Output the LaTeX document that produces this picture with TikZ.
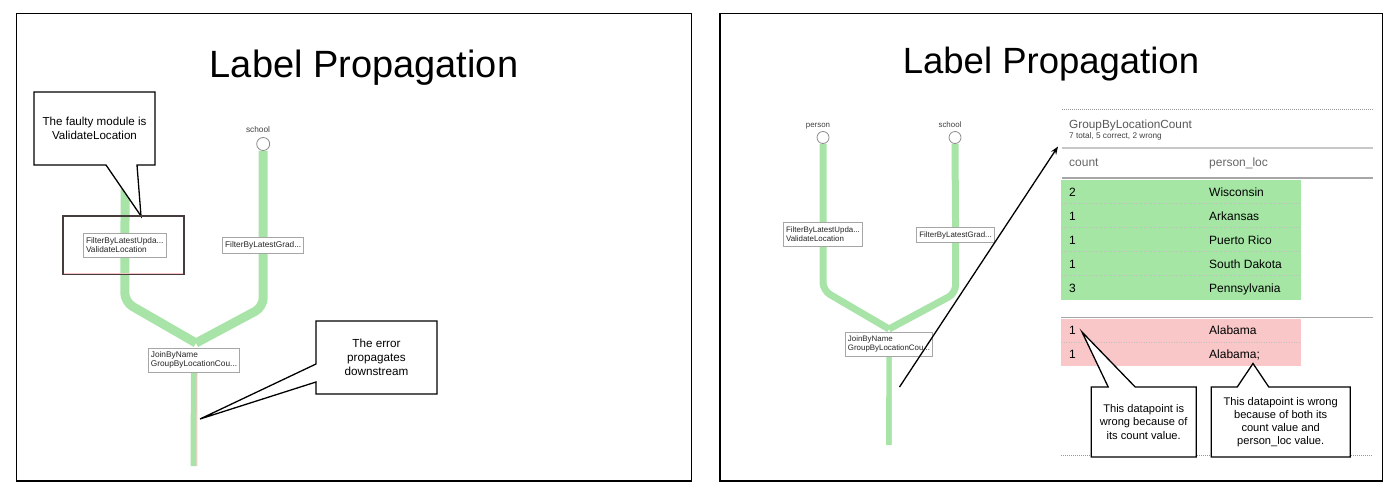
\documentclass[tikz,border=0pt]{standalone}
\usepackage{fontspec}
\setmainfont{Liberation Sans}
\usetikzlibrary{arrows.meta,backgrounds,calc}

\definecolor{pipegreen}{RGB}{168,228,168}
\definecolor{rowgreen}{RGB}{165,230,165}
\definecolor{rowpink}{RGB}{249,199,199}
\definecolor{pinkline}{RGB}{246,196,196}
\definecolor{hlbox}{RGB}{70,60,60}
\newcommand{\fsz}[2]{\fontsize{#1}{#2}\selectfont}

\begin{document}
\begin{tikzpicture}[x=1pt,y=-1pt,
  frame/.style={draw=black,line width=1.6pt},
  titletext/.style={inner sep=0pt,anchor=base},
  circL/.style={circle,draw=black!45,fill=white,line width=0.8pt,minimum size=13pt,inner sep=0pt},
  circR/.style={circle,draw=black!45,fill=white,line width=0.8pt,minimum size=12pt,inner sep=0pt},
  srclbl/.style={inner sep=0pt,anchor=base,text=black!75},
  gnode/.style={draw=black!35,fill=white,line width=0.8pt,align=left,inner xsep=2.5pt,inner ysep=0pt,text=black!85},
  gnodeL/.style={gnode,font=\fsz{8.3}{9}},
  gnodeR/.style={gnode,font=\fsz{7.9}{8.6}},
  pipeL/.style={draw=pipegreen,line width=9pt,rounded corners=9pt},
  pipeR/.style={draw=pipegreen,line width=7pt,rounded corners=8pt},
  pinkstrip/.style={draw=pinkline,line width=1pt},
  hlrect/.style={draw=hlbox,line width=1.5pt,inner sep=0pt},
  callshape/.style={draw=black,fill=white,line width=1.3pt,line join=miter},
  calltext/.style={align=center,inner sep=0pt,outer sep=0pt},
  tabtext/.style={inner sep=0pt,anchor=base west,font=\fsz{12}{14}},
  tabhead/.style={tabtext,text=black!60},
  dotline/.style={draw=black!40,line width=0.8pt,dash pattern=on 1pt off 1pt},
  rowsep/.style={draw=black!25,line width=0.6pt,dash pattern=on 1pt off 1.5pt},
  ptr/.style={draw=black,line width=1.3pt,-{Stealth[length=8pt,width=6pt]}}
]
\useasboundingbox (0,0) rectangle (1400,496);

% ---------- frames and titles ----------
\draw[frame] (16.6,13.3) rectangle (691.5,481);
\draw[frame] (720.2,13.3) rectangle (1382.5,481);
\node[titletext,font=\fsz{38}{40}] (Ltitle) at (364,77) {Label Propagation};
\node[titletext,font=\fsz{36.5}{38}] (Rtitle) at (1051,73.3) {Label Propagation};

% ---------- left panel graph ----------
\coordinate (Lptop) at (125.5,160);
\node[circL] (Lsc) at (263.2,144) {};
\node[srclbl,font=\fsz{8.3}{9}] (Lsclbl) at (258,132.5) {school};
\node[gnodeL,minimum height=24pt] (Lf1) at (124.8,245) {FilterByLatestUpda...\\ValidateLocation};
\node[gnodeL,minimum height=16pt] (Lf2) at (263.2,245) {FilterByLatestGrad...};
\node[gnodeL,minimum height=24pt] (Lj) at (194,360) {JoinByName\\GroupByLocationCou...};
\coordinate (Ljp) at (196,343);
\coordinate (Lend) at (193.5,466);
\node[hlrect,minimum width=121pt,minimum height=58pt] (Lhl) at (123.4,245) {};

% ---------- left callouts (text) ----------
\node[calltext,font=\fsz{11.6}{14},minimum width=121pt,minimum height=73pt] (Lc1) at (94.5,128.5) {The faulty module is\\ValidateLocation};
\coordinate (Lc1tip) at (141,216);
\node[calltext,font=\fsz{11.7}{14},minimum width=121pt,minimum height=73pt] (Lc2) at (376.5,357.5) {The error\\propagates\\downstream};
\coordinate (Lc2tip) at (200,419);

% ---------- right panel graph ----------
\node[circR] (Rpc) at (823,137.5) {};
\node[circR] (Rsc) at (955,137.5) {};
\node[srclbl,font=\fsz{7.9}{9}] (Rpclbl) at (818,127.5) {person};
\node[srclbl,font=\fsz{7.9}{9}] (Rsclbl) at (950,127.5) {school};
\node[gnodeR,minimum height=23.5pt] (Rf1) at (823,234.4) {FilterByLatestUpda...\\ValidateLocation};
\node[gnodeR,minimum height=15pt] (Rf2) at (955.6,235.2) {FilterByLatestGrad...};
\node[gnodeR,minimum height=23.7pt] (Rj) at (889,344.2) {JoinByName\\GroupByLocationCou...};
\coordinate (Rjp) at (889,329);
\coordinate (Rend) at (888.5,445);

% ---------- table ----------
\draw[dotline] (1062,109) -- (1373,109);
\node[tabtext,text=black!65,font=\fsz{11.8}{14}] (Ttitle) at (1069,128.3) {GroupByLocationCount};
\node[tabtext,text=black!75,font=\fsz{8.2}{10}] (Tsub) at (1069,138.2) {7 total, 5 correct, 2 wrong};
\draw[draw=black!22,line width=2pt] (1062,147.8) -- (1373,147.8);
\node[tabhead] (Hcount) at (1069,166) {count};
\node[tabhead] (Hloc) at (1209,166) {person\_loc};
\draw[draw=black!35,line width=1.8pt] (1062,178.3) -- (1373,178.3);

\begin{scope}[on background layer]
  \fill[white] (0,0) rectangle (1400,496);
  % table fills
  \fill[rowgreen] (1061,179.5) rectangle (1301,299.5);
  \fill[rowpink] (1061,318.5) rectangle (1301,366);
  % left pipes
  \draw[pipeL] (Lptop) -- (Lf1.center) -- ($(Lf1.center)+(0,57)$) -- (Ljp);
  \draw[pipeL] (Lsc.south) -- (Lf2.center) -- ($(Lf2.center)+(0,62)$) -- (Ljp);
  \draw[draw=pipegreen,line width=6pt] (Lj.center) -- (Lend);
  \draw[pinkstrip] ($(Lj.south)+(3,0)$) -- ($(Lend)+(3.4,0)$);
  % right pipes
  \draw[pipeR] (Rpc.south) -- (Rf1.center) -- ($(Rf1.center)+(0,56)$) -- (Rjp);
  \draw[pipeR] (Rsc.south) -- (Rf2.center) -- ($(Rf2.center)+(0,58)$) -- (Rjp);
  \draw[draw=pipegreen,line width=5pt] (Rj.center) -- (Rend);
  \draw[pinkstrip,line width=0.9pt] ($(Rj.south)+(2.4,0)$) -- ($(Rend)+(2.9,0)$);
  % callout shapes
  \draw[callshape] (Lc1.north west) -- (Lc1.north east) -- (Lc1.south east)
     -- ($(Lc1.south west)+(103,0)$) -- (Lc1tip) -- ($(Lc1.south west)+(72,0)$)
     -- (Lc1.south west) -- cycle;
  \draw[callshape] (Lc2.north west) -- (Lc2.north east) -- (Lc2.south east)
     -- (Lc2.south west) -- ($(Lc2.south west)+(0,-12)$) -- (Lc2tip)
     -- ($(Lc2.north west)+(0,43)$) -- cycle;
\end{scope}

% inner pink line of highlight box
\draw[pinkline,line width=0.8pt] ($(Lhl.south west)+(1.5,-1.2)$) -- ($(Lhl.south east)+(-1.5,-1.2)$);

% table rows
\foreach \y in {203.5,227.5,251.5,275.5} {\draw[rowsep] (1061,\y) -- (1301,\y);}
\draw[rowsep] (1061,342.3) -- (1301,342.3);
\node[tabtext] (r1a) at (1069,196) {2};
\node[tabtext] (r1b) at (1209,196) {Wisconsin};
\node[tabtext] (r2a) at (1069,220) {1};
\node[tabtext] (r2b) at (1209,220) {Arkansas};
\node[tabtext] (r3a) at (1069,244) {1};
\node[tabtext] (r3b) at (1209,244) {Puerto Rico};
\node[tabtext] (r4a) at (1069,268) {1};
\node[tabtext] (r4b) at (1209,268) {South Dakota};
\node[tabtext] (r5a) at (1069,292) {3};
\node[tabtext] (r5b) at (1209,292) {Pennsylvania};
\draw[draw=black!35,line width=1.2pt] (1061,317.5) -- (1373,317.5);
\node[tabtext] (p1a) at (1069,334.6) {1};
\node[tabtext] (p1b) at (1209,334.6) {Alabama};
\node[tabtext] (p2a) at (1069,358.6) {1};
\node[tabtext] (p2b) at (1209,358.6) {Alabama;};
\draw[dotline] (1061,455.7) -- (1373,455.7);

% arrow to table
\coordinate (Rastart) at (899.5,387);
\coordinate (Raend) at (1058,146.5);
\draw[ptr] (Rastart) -- (Raend);

% right callouts
\coordinate (RcAtip) at (1082,332);
\coordinate (RcBtip) at (1253,363.5);
\path (1143.7,422) node[calltext,minimum width=105pt,minimum height=70pt] (RcA) {};
\path (1280.7,422) node[calltext,minimum width=139pt,minimum height=70pt] (RcB) {};
\draw[callshape] (RcA.south west) -- (RcA.north west) -- ($(RcA.north west)+(17,0)$)
   -- (RcAtip) -- ($(RcA.north west)+(44,0)$) -- (RcA.north east) -- (RcA.south east) -- cycle;
\draw[callshape] (RcB.south west) -- (RcB.north west) -- ($(RcB.north west)+(26,0)$)
   -- (RcBtip) -- ($(RcB.north west)+(57.6,0)$) -- (RcB.north east) -- (RcB.south east) -- cycle;
\node[calltext,font=\fsz{11.1}{13.6}] (RcAt) at (RcA.center) {This datapoint is\\wrong because of\\its count value.};
\node[calltext,font=\fsz{11.1}{13.1}] (RcBt) at (RcB.center) {This datapoint is wrong\\because of both its\\count value and\\person\_loc value.};
\end{tikzpicture}
\end{document}
